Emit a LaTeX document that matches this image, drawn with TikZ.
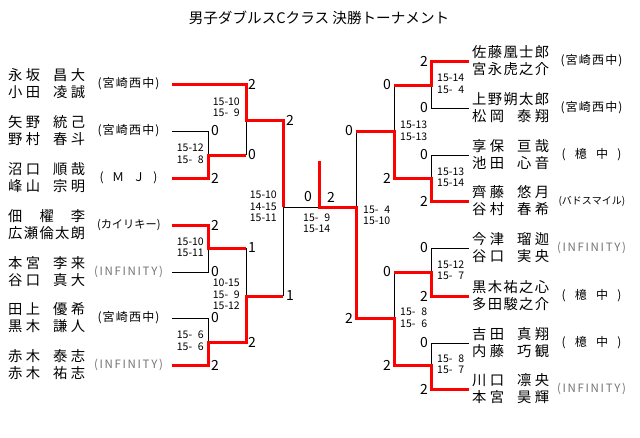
\documentclass[tikz,border=0pt]{standalone}
\usepackage{fontspec}
\setmainfont{Noto Sans CJK JP}
\usepackage{tikz}

% spread the characters of #2 evenly over a box of width #1
\makeatletter
\newcommand\spreadbox[2]{\makebox[#1][s]{\spr@first#2\@nil}}
\def\spr@first#1{#1\spr@next}
\def\spr@next#1{\ifx#1\@nil\else\hfil#1\expandafter\spr@next\fi}
\makeatother
\newcommand\gp{\hskip6pt}
\newcommand\nm[1]{\spreadbox{77pt}{#1}}
\newcommand\club[2][62pt]{\spreadbox{#1}{#2}}

\begin{document}
\begin{tikzpicture}[x=1pt,y=-1pt,
    win/.style={red,line width=3pt},
    lose/.style={black,line width=0.8pt},
    player/.style={font=\fontsize{14.3}{17}\selectfont,align=left,inner sep=0pt,anchor=west},
    team/.style={font=\fontsize{12}{13}\selectfont,inner sep=0pt},
    inf/.style={team,font=\fontsize{11.5}{13}\selectfont,text=black!55},
    score/.style={font=\fontsize{14}{16}\selectfont,inner sep=0pt},
    games/.style={font=\fontsize{10.5}{11.5}\selectfont,inner sep=0pt}]

  \useasboundingbox (0,0) rectangle (640,437);

  \node[font=\fontsize{14.6}{16}\selectfont] (title) at (319,18) {男子ダブルスCクラス 決勝トーナメント};

  % left block
  \node[player] (pl1) at (8, 84) {\nm{永坂\gp 昌大}\\\nm{小田\gp 凌誠}};
  \node[player] (pl2) at (8,131) {\nm{矢野\gp 統己}\\\nm{野村\gp 春斗}};
  \node[player] (pl3) at (8,178) {\nm{沼口\gp 順哉}\\\nm{峰山\gp 宗明}};
  \node[player] (pl4) at (8,225) {\nm{佃　櫂　李}\\\nm{広瀬倫太朗}};
  \node[player] (pl5) at (8,272) {\nm{本宮\gp 李来}\\\nm{谷口\gp 真大}};
  \node[player] (pl6) at (8,318) {\nm{田上\gp 優希}\\\nm{黒木\gp 謙人}};
  \node[player] (pl7) at (8,365) {\nm{赤木\gp 泰志}\\\nm{赤木\gp 祐志}};

  \node[team] (cl1) at (128.5, 84) {\club{(宮崎西中)}};
  \node[team] (cl2) at (128.5,131) {\club{(宮崎西中)}};
  \node[team] (cl3) at (128.5,178) {\club[58pt]{(ＭＪ)}};
  \node[team,font=\fontsize{11.2}{13}\selectfont] (cl4) at (128.5,225) {\club[63pt]{(カイリキー)}};
  \node[inf]  (cl5) at (128.5,272) {\club[69pt]{(INFINITY)}};
  \node[team] (cl6) at (128.5,318) {\club{(宮崎西中)}};
  \node[inf]  (cl7) at (128.5,365) {\club[69pt]{(INFINITY)}};

  % right block
  \node[player] (pr1) at (472, 61) {\nm{佐藤凰士郎}\\\nm{宮永虎之介}};
  \node[player] (pr2) at (472,108) {\nm{上野朔太郎}\\\nm{松岡\gp 泰翔}};
  \node[player] (pr3) at (472,155) {\nm{享保\gp 亘哉}\\\nm{池田\gp 心音}};
  \node[player] (pr4) at (472,201) {\nm{齊藤\gp 悠月}\\\nm{谷村\gp 春希}};
  \node[player] (pr5) at (472,248) {\nm{今津\gp 瑠迦}\\\nm{谷口\gp 実央}};
  \node[player] (pr6) at (472,296) {\nm{黒木祐之心}\\\nm{多田駿之介}};
  \node[player] (pr7) at (472,343) {\nm{吉田\gp 真翔}\\\nm{内藤\gp 巧観}};
  \node[player] (pr8) at (472,389) {\nm{川口\gp 凛央}\\\nm{本宮\gp 昊輝}};

  \node[team] (cr1) at (591.5, 61) {\club{(宮崎西中)}};
  \node[team] (cr2) at (591.5,108) {\club{(宮崎西中)}};
  \node[team] (cr3) at (591.5,155) {\club[60pt]{(檍中)}};
  \node[team,font=\fontsize{10}{12}\selectfont] (cr4) at (591.5,201) {\club[66pt]{(バドスマイル)}};
  \node[inf]  (cr5) at (591.5,248) {\club[69pt]{(INFINITY)}};
  \node[team] (cr6) at (591.5,296) {\club[60pt]{(檍中)}};
  \node[team] (cr7) at (591.5,343) {\club[60pt]{(檍中)}};
  \node[inf]  (cr8) at (591.5,389) {\club[69pt]{(INFINITY)}};

  % bracket points
  \coordinate (tl1) at (172, 84);
  \coordinate (tl2) at (172,131);
  \coordinate (tl3) at (172,178);
  \coordinate (tl4) at (172,225);
  \coordinate (tl5) at (172,272);
  \coordinate (tl6) at (172,318);
  \coordinate (tl7) at (172,365);
  \coordinate (tr1) at (469, 61);
  \coordinate (tr2) at (469,108);
  \coordinate (tr3) at (469,155);
  \coordinate (tr4) at (469,201);
  \coordinate (tr5) at (469,248);
  \coordinate (tr6) at (469,296);
  \coordinate (tr7) at (469,343);
  \coordinate (tr8) at (469,389);

  \coordinate (m23) at (208,155);
  \coordinate (m45) at (208,248);
  \coordinate (m67) at (208,342);
  \coordinate (m1)  at (246,120);
  \coordinate (m47) at (246,296);
  \coordinate (sL)  at (283,207);
  \coordinate (fin) at (319,207);
  \coordinate (top) at (319,161);
  \coordinate (sR)  at (356,207);
  \coordinate (n14) at (394,131);
  \coordinate (n58) at (394,318);
  \coordinate (n12) at (431, 85);
  \coordinate (n34) at (431,178);
  \coordinate (n56) at (431,272);
  \coordinate (n78) at (431,365);

  % losers
  \draw[lose] (tl2) -| (m23);
  \draw[lose] (m23 -| m1) -- (m1);
  \draw[lose] (tl5) -| (m45);
  \draw[lose] (m45 -| m47) -- (m47);
  \draw[lose] (tl6) -| (m67);
  \draw[lose] (m47 -| sL) -- (sL) -- (fin);
  \draw[lose] (tr2) -| (n12);
  \draw[lose] (n12 -| n14) -- (n14);
  \draw[lose] (n34) |- (tr3);
  \draw[lose] (sR) -- (sR |- n14);
  \draw[lose] (tr5) -| (n56);
  \draw[lose] (n56 -| n58) -- (n58);
  \draw[lose] (tr7) -| (n78);

  % winners
  \draw[win] (tl1) -| (m1) -| (sL);
  \draw[win] (tl3) -| (m23) -- (m23 -| m1);
  \draw[win] (tl4) -| (m45) -- (m45 -| m47);
  \draw[win] (tl7) -| (m67) -| (m47) -- (m47 -| sL);
  \draw[win] (tr1) -| (n12) -- (n12 -| n14);
  \draw[win] (sR |- n14) -- (n14) |- (n34) |- (tr4);
  \draw[win] (tr6) -| (n56) -- (n56 -| n58);
  \draw[win] (top) -- (fin) -- (sR) |- (n58) |- (n78) |- (tr8);

  % points, left
  \node[score,anchor=west] (sl1)  at (248, 84) {2};
  \node[score,anchor=west] (sl2)  at (211,131) {0};
  \node[score,anchor=west] (sl3)  at (211,178) {2};
  \node[score,anchor=west] (sl23) at (248,155) {0};
  \node[score,anchor=west] (sl13) at (286,120) {2};
  \node[score,anchor=west] (sl4)  at (211,225) {2};
  \node[score,anchor=west] (sl5)  at (211,272) {0};
  \node[score,anchor=west] (sl45) at (248,248) {1};
  \node[score,anchor=west] (sl6)  at (211,318) {0};
  \node[score,anchor=west] (sl7)  at (211,365) {2};
  \node[score,anchor=west] (sl67) at (248,342) {2};
  \node[score,anchor=west] (sl47) at (286,296) {1};
  \node[score,anchor=west] (sfl)  at (304,197) {0};
  \node[score,anchor=west] (sfr)  at (327,197) {2};

  % points, right
  \node[score,anchor=east] (sr1)  at (428, 61) {2};
  \node[score,anchor=east] (sr2)  at (428,108) {0};
  \node[score,anchor=east] (sr3)  at (428,155) {0};
  \node[score,anchor=east] (sr4)  at (428,201) {2};
  \node[score,anchor=east] (sr12) at (391, 85) {0};
  \node[score,anchor=east] (sr34) at (391,178) {2};
  \node[score,anchor=east] (sr14) at (353,131) {0};
  \node[score,anchor=east] (sr5)  at (428,248) {0};
  \node[score,anchor=east] (sr6)  at (428,296) {2};
  \node[score,anchor=east] (sr7)  at (428,343) {0};
  \node[score,anchor=east] (sr8)  at (428,389) {2};
  \node[score,anchor=east] (sr56) at (391,272) {0};
  \node[score,anchor=east] (sr78) at (391,365) {2};
  \node[score,anchor=east] (sr58) at (353,318) {2};

  % game counts
  \node[games,anchor=east,align=right] (g23) at (204,154)   {15-12\\15-\phantom{0}8};
  \node[games,anchor=east,align=right] (g13) at (240,107.5) {15-10\\15-\phantom{0}9};
  \node[games,anchor=east,align=right] (g45) at (204,247.5) {15-10\\15-11};
  \node[games,anchor=east,align=right] (g67) at (204,341)   {15-\phantom{0}6\\15-\phantom{0}6};
  \node[games,anchor=east,align=right] (g47) at (240,294.5) {10-15\\15-\phantom{0}9\\15-12};
  \node[games,anchor=east,align=right] (gsl) at (277,206.5) {15-10\\14-15\\15-11};
  \node[games,anchor=west,align=left]  (gf)  at (303,223.5) {15-\phantom{0}9\\15-14};
  \node[games,anchor=west,align=left]  (gsr) at (363,215.5) {15-\phantom{0}4\\15-10};
  \node[games,anchor=west,align=left]  (g12) at (437, 84)   {15-14\\15-\phantom{0}4};
  \node[games,anchor=west,align=left]  (g34) at (437,177.5) {15-13\\15-14};
  \node[games,anchor=west,align=left]  (g14) at (400,131)   {15-13\\15-13};
  \node[games,anchor=west,align=left]  (g56) at (437,270.5) {15-12\\15-\phantom{0}7};
  \node[games,anchor=west,align=left]  (g78) at (437,364)   {15-\phantom{0}8\\15-\phantom{0}7};
  \node[games,anchor=west,align=left]  (g58) at (400,317.5) {15-\phantom{0}8\\15-\phantom{0}6};
\end{tikzpicture}
\end{document}
